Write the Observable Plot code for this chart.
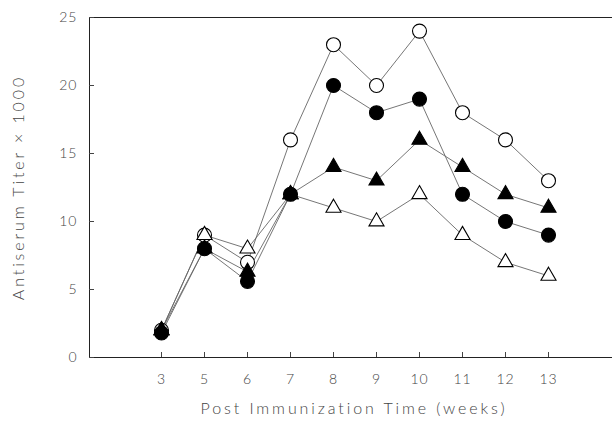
<!DOCTYPE html>
<html>
<head>
<meta charset="utf-8">
<script src="https://cdn.jsdelivr.net/npm/d3@7"></script>
<script src="https://cdn.jsdelivr.net/npm/@observablehq/plot@0.6"></script>
<style>
  body { margin: 0; background: white; }
  .ttl text { letter-spacing: 2.9px; }
  .tk text { letter-spacing: 1px; }
</style>
</head>
<body>
<div id="chart"></div>
<script>
const weeks = [3, 5, 6, 7, 8, 9, 10, 11, 12, 13];
const openCircle     = [2, 9, 7, 16, 23, 20, 24, 18, 16, 13];
const filledCircle   = [1.8, 8, 5.6, 12, 20, 18, 19, 12, 10, 9];
const filledTriangle = [2, 8, 6.3, 12, 14, 13, 16, 14, 12, 11];
const openTriangle   = [2, 9, 8, 12, 11, 10, 12, 9, 7, 6];
const yTicks = [0, 5, 10, 15, 20, 25];
const xTitle = "Post Immunization Time (weeks)";
const yTitle = "Antiserum Titer × 1000";

const seriesDefs = [
  {name: "openCircle", values: openCircle, symbol: "circle", fill: "white", r: 7},
  {name: "openTriangle", values: openTriangle, symbol: "triangle", fill: "white", r: 5.6},
  {name: "filledTriangle", values: filledTriangle, symbol: "triangle", fill: "black", r: 5.6},
  {name: "filledCircle", values: filledCircle, symbol: "circle", fill: "black", r: 7}
];

const lineMarks = [];
const dotMarks = [];
for (const s of seriesDefs) {
  const rows = weeks.map((w, i) => ({week: w, v: s.values[i]}));
  lineMarks.push(Plot.line(rows, {x: "week", y: "v", stroke: "#666", strokeWidth: 0.9}));
  dotMarks.push(Plot.dot(rows, {x: "week", y: "v", symbol: () => s.symbol, r: s.r,
    fill: s.fill, stroke: "black", strokeWidth: 1.1}));
}

const chart = Plot.plot({
  width: 612,
  height: 425,
  marginLeft: 89,
  marginRight: 0,
  marginTop: 17,
  marginBottom: 68,
  x: {type: "point", domain: weeks, range: [137, 572]},
  y: {domain: [0, 25], range: [357, 17]},
  symbol: {type: "identity"},
  style: {fontFamily: "Lato, 'DejaVu Sans', sans-serif", fontSize: "14px", color: "#444", background: "white"},
  marks: [
    Plot.frame({anchor: "left", stroke: "#222"}),
    Plot.ruleY([0, 25], {stroke: "#222"}),
    Plot.axisY({ticks: yTicks, tickSize: -5, tickPadding: 17, label: null, fontWeight: 300, className: "tk"}),
    Plot.axisX({tickSize: -5, tickPadding: 22, label: null, fontWeight: 300, className: "tk"}),
    ...lineMarks,
    ...dotMarks,
    Plot.text([yTitle], {frameAnchor: "left", textAnchor: "middle", dx: -71, rotate: -90, fontSize: 16, fill: "#444", fontWeight: 300, className: "ttl"}),
    Plot.text([xTitle], {frameAnchor: "bottom", dx: 3, dy: 56, fontSize: 16, fill: "#444", fontWeight: 300, className: "ttl"})
  ]
});
document.getElementById("chart").appendChild(chart);
</script>
</body>
</html>
